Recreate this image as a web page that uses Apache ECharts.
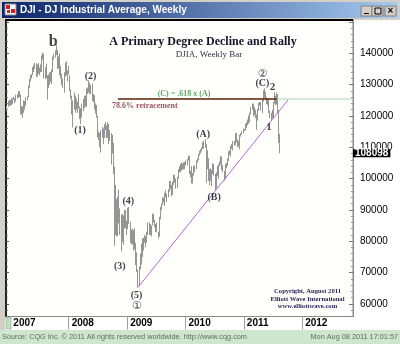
<!DOCTYPE html>
<html><head><meta charset="utf-8">
<script src="https://cdn.jsdelivr.net/npm/echarts@6/dist/echarts.min.js"></script>
<style>html,body{margin:0;padding:0;background:#fff}#c{width:400px;height:344px}</style>
</head><body><div id="c"></div>
<script>
// ---------- data (DJI weekly bars, CQG price units = DJIA x 10) ----------
const firstWeek = '2006-12-08';
const lows = [
 121600,122900,123300,123300,
 123400,123800,125200,124100,124600,125600,125800,126000,120500,120400,119400,121000,122000,123300,125000,126000,129000,131000,132000,133000,134000,135000,132500,132500,133500,133000,134000,134000,138000,132000,131800,132000,125200,129000,129900,130900,130200,134000,138000,138600,139500,135000,135200,133000,132000,129900,129000,127400,132500,133000,131000,133300,
 128000,125500,120500,116300,122000,121000,122000,121000,122500,119000,117300,119500,121500,122500,123000,123000,127000,127500,127000,127000,124800,124400,122000,120800,119500,113200,112300,110000,108300,113000,111000,113000,115500,113000,113000,111000,112000,104500,108000,101500,78500,82000,81500,81700,85700,82000,76800,79800,78800,84000,84200,82000,
 83800,85500,79500,79000,79000,77000,77400,72400,70200,65200,65800,71000,72500,75000,77000,79500,78000,79500,82000,82000,82000,81500,85000,86000,84500,83000,82800,80900,81500,87000,89900,91500,92300,91300,94000,92500,94000,95800,96600,94300,94800,98000,98700,96800,97000,100000,102000,102000,102600,102800,103000,103000,
 104200,104200,105800,101500,100400,98400,98400,101000,102000,103000,105000,105800,107400,108000,108700,109500,109500,109800,98700,103000,99300,97800,99300,97600,101500,101000,96100,96800,100800,99900,103900,104500,102700,102000,99300,99900,103300,104000,105600,107600,107000,109500,109000,110500,110700,111700,110000,110300,109300,113400,114000,114500,115200,
 115500,116200,117000,117500,118000,120500,122000,119800,120300,119300,115600,118500,121700,123300,121700,120900,124600,125800,125200,123800,123400,121000,119300,118600,119300,119300,124000,123300,123700,121000,111400,108100
];
const highs = [
 123300,124800,125100,125100,
 125800,125600,126200,125700,126800,127000,127900,127950,126900,123200,123000,125000,124800,126000,126400,129700,131800,133100,133400,135600,136300,136900,136800,136500,136900,135500,136500,139400,140200,140000,135600,136700,133000,133200,134000,134000,134800,139000,139900,141000,142800,141000,139000,140000,136000,133500,132000,134000,137000,137500,134500,136000,
 133000,128500,126500,125000,127500,126500,125500,124500,127000,123000,122500,124000,125500,126500,126500,128700,129100,131400,130600,129900,130300,127000,126600,124000,123500,120000,115000,114500,115500,116500,116000,117400,118000,117000,118000,117500,115500,114500,114000,111500,103800,98000,93500,94300,96500,90500,88500,88700,88200,90000,90000,86500,
 90700,90900,86200,83700,84000,83500,84200,79500,76500,71000,72000,76000,79200,81000,81000,82000,81600,83000,86000,86000,85500,85000,88800,88800,86800,85500,86000,83000,87800,91000,92000,94000,94000,95500,96300,95200,96600,99200,99200,98000,98900,101200,101200,100000,100500,103000,104000,104700,105200,104800,105200,105300,
 105800,106300,107300,107300,102500,104000,101700,104100,104200,105800,106400,107900,108900,109400,110000,111600,112100,112600,111000,109000,106500,103000,103300,102700,104900,104700,101500,102000,104000,104600,105500,107200,107000,104300,102500,104700,105000,106400,108700,109000,110400,111000,112000,112000,114500,114600,112500,112000,114000,114500,115200,116000,115900,
 117500,118000,118900,120200,121000,122800,124000,123900,122800,122000,120500,122300,124200,124500,124400,125300,128200,128800,127800,126100,125300,125700,121700,121000,122000,124500,127500,126500,127500,127000,121900,114300
];
const lastClose = 108098;
const yearLabels = ['2007','2008','2009','2010','2011','2012'];
const retracementLevel = 125400;
const retracementFrom = '2008-11-04';
const retracementTo = '2011-07-26';
const trendStart = ['2009-03-09', 65200];
const trendEnd = ['2011-10-04', 125100];
const annoText  = ['b','(2)','(1)','(3)','(4)','(5)','\u2460','(A)','(B)','\u2461','(C)','2','1','(C) = .618 x (A)','78.6% retracement'];
const annoDate  = ['2007-09-26','2008-05-17','2008-03-12','2008-11-16','2009-01-08','2009-03-01','2009-03-01','2010-04-21','2010-06-29','2011-04-27','2011-04-27','2011-06-29','2011-06-08','2009-12-23','2009-04-22'];
const annoValue = [143700,132750,115500,72070,92600,62580,59290,114230,94010,133390,130420,129330,116560,127000,123330];
const annoKind  = ['big','wave','wave','wave','wave','wave','circ','wave','wave','circ','wave','minor','minor','fib','retr'];

// ---------- helpers ----------
function d(s){const p=s.split('-').map(Number);return new Date(p[0],p[1]-1,p[2]).getTime();}
const weeks = lows.map((_,i)=>{const p=firstWeek.split('-').map(Number);return new Date(p[0],p[1]-1,p[2]+7*i).getTime();});
const yearTs = yearLabels.map(y=>new Date(+y,0,1).getTime());
const SERIF = '"Liberation Serif","Times New Roman",serif';
const SANS = '"Liberation Sans",Arial,sans-serif';
const kindStyle = {
  big:  {fontFamily:SERIF,fontSize:16,fontWeight:'bold',color:'#141414'},
  wave: {fontFamily:SERIF,fontSize:10,fontWeight:'bold',color:'#0e0e22'},
  circ: {fontFamily:'"DejaVu Sans",sans-serif',fontSize:11,color:'#0e0e22'},
  minor:{fontFamily:SERIF,fontSize:11,fontWeight:'bold',color:'#0e0e22'},
  fib:  {fontFamily:SERIF,fontSize:8,fontWeight:'bold',color:'#2f8f3f'},
  retr: {fontFamily:SERIF,fontSize:8,fontWeight:'bold',color:'#7a1f3d'}
};

const chart = echarts.init(document.getElementById('c'), null, {renderer:'canvas'});
const yCommon = {type:'value', min:55950, max:150650, splitNumber:10, scale:true, splitLine:{show:false}};
chart.setOption({
  animation:false,
  backgroundColor:'#ffffff',
  grid:{left:6, right:47, top:20, bottom:27.5, show:true, borderColor:'#8a8a8a', borderWidth:1, backgroundColor:'#fffffb'},
  xAxis:{type:'value', min:d('2006-12-05'), max:d('2012-11-14'), scale:true,
    axisLine:{show:true, lineStyle:{color:'#8a8a8a'}},
    splitLine:{show:false},
    axisTick:{show:true, customValues:yearTs, length:13, lineStyle:{color:'#a0a0a0'}},
    axisLabel:{customValues:yearTs, formatter:v=>String(new Date(v).getFullYear()), align:'left', padding:[0,0,0,3], margin:2,
      fontFamily:SANS, fontSize:10, fontWeight:'bold', color:'#000'}},
  yAxis:[
    Object.assign({}, yCommon, {position:'left',
      axisLine:{show:true, lineStyle:{color:'#222', width:2}},
      axisTick:{show:true, inside:true, length:3, lineStyle:{color:'#555'}},
      minorTick:{show:true, splitNumber:5, length:2, lineStyle:{color:'#777'}},
      axisLabel:{show:false}}),
    Object.assign({}, yCommon, {position:'right',
      axisLine:{show:true, lineStyle:{color:'#8a8a8a'}},
      axisTick:{show:true, inside:true, length:4, lineStyle:{color:'#777'}},
      minorTick:{show:true, splitNumber:5, length:2, lineStyle:{color:'#999'}},
      axisLabel:{margin:7, fontFamily:SANS, fontSize:10, color:'#000',
        formatter:v=>(v%10000===0 && v<150000)?String(v):''}})
  ],
  series:[
    {type:'custom', yAxisIndex:1, z:3,
     data:weeks.map((t,i)=>[t,lows[i],highs[i]]),
     encode:{x:0,y:[1,2]},
     renderItem:(params,api)=>{
       const a=api.coord([api.value(0),api.value(1)]);
       const b=api.coord([api.value(0),api.value(2)]);
       const x=Math.round(a[0])+0.5;
       return {type:'line', shape:{x1:x,y1:a[1],x2:x,y2:b[1]}, style:{stroke:'#959595', lineWidth:1}};
     }},
    {type:'line', yAxisIndex:1, z:7, symbol:'none', silent:true,
     data:[[d('2011-08-12'),lastClose],[d('2012-11-14'),lastClose]],
     lineStyle:{color:'transparent', width:0},
     endLabel:{show:true, distance:0, formatter:String(lastClose),
       backgroundColor:'#000', color:'#fff', fontFamily:SANS, fontSize:10, fontWeight:'bold',
       padding:[0,2,0,2], lineHeight:8}},
    {type:'line', yAxisIndex:1, z:4, symbol:'none', silent:true,
     data:[[d(retracementFrom),retracementLevel],[d(retracementTo),retracementLevel]],
     lineStyle:{color:'#5a1e08', width:1.5}},
    {type:'line', yAxisIndex:1, z:4, symbol:'none', silent:true,
     data:[[d(retracementTo),retracementLevel],[d('2012-11-14'),retracementLevel]],
     lineStyle:{color:'#a9d6b4', width:1}},
    {type:'line', yAxisIndex:1, z:4, symbol:'none', silent:true,
     data:[[d(trendStart[0]),trendStart[1]],[d(trendEnd[0]),trendEnd[1]]],
     lineStyle:{color:'#b36ad6', width:1}},
    {type:'scatter', yAxisIndex:1, z:6, silent:true, symbolSize:1, itemStyle:{color:'rgba(0,0,0,0)'},
     data:annoText.map((t,i)=>({value:[d(annoDate[i]),annoValue[i]],
       label:Object.assign({show:true, position:'inside', formatter:t}, kindStyle[annoKind[i]])}))}
  ],
  graphic:[
    {type:'rect', z:-1, shape:{x:0,y:0,width:400,height:20}, style:{fill:'#d4d0c8'}},
    {type:'rect', z:-1, shape:{x:0,y:0,width:5,height:344}, style:{fill:'#d4d0c8'}},
    {type:'rect', z:1, shape:{x:2,y:2,width:396,height:16},
      style:{fill:new echarts.graphic.LinearGradient(0,0,1,0,[{offset:0,color:'#0a246a'},{offset:1,color:'#a6caf0'}])}},
    {type:'rect', z:2, shape:{x:5,y:4,width:11,height:11}, style:{fill:'#ffffff', stroke:'#888'}},
    {type:'rect', z:3, shape:{x:6,y:5,width:4,height:4}, style:{fill:'#d02020'}},
    {type:'rect', z:3, shape:{x:11,y:9,width:4,height:4}, style:{fill:'#d02020'}},
    {type:'rect', z:3, shape:{x:7,y:10,width:3,height:3}, style:{fill:'#d02020'}},
    {type:'text', z:3, x:20, y:10, style:{text:'DJI - DJ Industrial Average, Weekly', fill:'#ffffff',
      font:'bold 10px '+SANS, verticalAlign:'middle'}},
    {type:'rect', z:3, shape:{x:361,y:6,width:11,height:10}, style:{fill:'#d4d0c8', stroke:'#808080'}},
    {type:'rect', z:3, shape:{x:372,y:6,width:11,height:10}, style:{fill:'#d4d0c8', stroke:'#808080'}},
    {type:'rect', z:3, shape:{x:385,y:6,width:11,height:10}, style:{fill:'#d4d0c8', stroke:'#808080'}},
    {type:'rect', z:4, shape:{x:364,y:13,width:5,height:1}, style:{fill:'#000'}},
    {type:'rect', z:4, shape:{x:375,y:8,width:6,height:6}, style:{fill:'none', stroke:'#000'}},
    {type:'text', z:4, x:390.5, y:11, style:{text:'\u00d7', fill:'#000', font:'bold 10px '+SANS, align:'center', verticalAlign:'middle'}},
    {type:'rect', z:5, shape:{x:5,y:19,width:348,height:2}, style:{fill:'#000'}},
    {type:'text', z:5, x:203, y:41.5, style:{text:'A Primary Degree Decline and Rally', fill:'#141428',
      font:'bold 12px '+SERIF, align:'center', verticalAlign:'middle'}},
    {type:'text', z:5, x:209, y:55, style:{text:'DJIA, Weekly Bar', fill:'#333344',
      font:'9px '+SERIF, align:'center', verticalAlign:'middle'}},
    {type:'text', z:5, x:307.5, y:299, style:{text:'Copyright, August 2011\nElliott Wave International\nwww.elliottwave.com',
      fill:'#1e1e50', font:'bold 6.6px '+SERIF, align:'center', verticalAlign:'middle', lineHeight:7.3}},
    {type:'rect', z:5, shape:{x:6,y:317,width:5,height:12}, style:{fill:'#bfe0bf', stroke:'#909090', lineWidth:0.5}},
    {type:'rect', z:5, shape:{x:0,y:330,width:400,height:14}, style:{fill:'#cde6cd'}},
    {type:'text', z:6, x:2, y:337, style:{text:'Source: CQG Inc. \u00a9 2011 All rights reserved worldwide. http://www.cqg.com',
      fill:'#5e6e5e', font:'7.3px '+SANS, verticalAlign:'middle'}},
    {type:'text', z:6, x:398, y:337, style:{text:'Mon Aug 08 2011 17:01:57', fill:'#5e6e5e',
      font:'7.3px '+SANS, align:'right', verticalAlign:'middle'}}
  ]
});
</script></body></html>
